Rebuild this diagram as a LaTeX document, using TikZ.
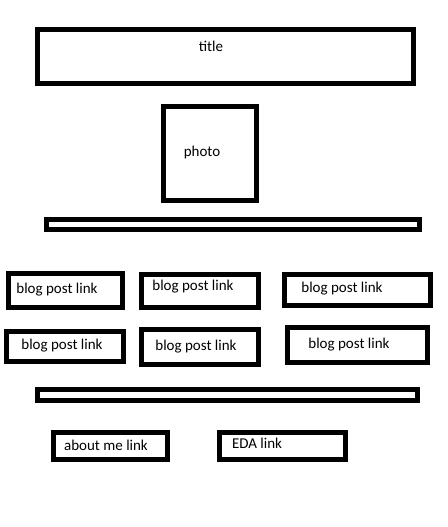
\documentclass[tikz,border=0pt]{standalone}
\usepackage{fontspec}
\setmainfont{Carlito}
\usepackage{tikz}

\begin{document}
\begin{tikzpicture}[
  x=1pt, y=-1pt,
  box/.style={rectangle,draw=black,line width=5pt,inner sep=0pt,fill=white},
  every label/.style={font=\fontsize{15}{18}\selectfont,inner sep=0pt},
  bar/.style={box,minimum height=10pt}
]
\useasboundingbox[fill=white] (0,0) rectangle (447,527);
% page header
\node[box,minimum width=376pt,minimum height=54pt,
  label={[xshift=-14.5pt,yshift=10.5pt]center:title}] (title) at (225.5,56.5) {};
\node[box,minimum width=93pt,minimum height=94pt,
  label={[xshift=-8pt,yshift=1.5pt]center:photo}] (photo) at (210,153.5) {};
\node[bar,minimum width=373pt] (bartop) at (233,224.5) {};
% blog posts
\node[box,minimum width=114pt,minimum height=34pt,
  label={[xshift=-8.5pt,yshift=0.5pt]center:blog post link}] (post1) at (65.5,290.5) {};
\node[box,minimum width=117pt,minimum height=33pt,
  label={[xshift=-7pt,yshift=4pt]center:blog post link}] (post2) at (200,291) {};
\node[box,minimum width=146pt,minimum height=31pt,
  label={[xshift=-15.5pt,yshift=1pt]center:blog post link}] (post3) at (357.5,290) {};
\node[box,minimum width=117pt,minimum height=30pt,
  label={[xshift=-3pt,yshift=0.5pt]center:blog post link}] (post4) at (65,346.5) {};
\node[box,minimum width=117pt,minimum height=35pt,
  label={[xshift=-4pt]center:blog post link}] (post5) at (200,347) {};
\node[box,minimum width=140pt,minimum height=35pt,
  label={[xshift=-8.5pt]center:blog post link}] (post6) at (357.5,345) {};
\node[bar,minimum width=380pt,minimum height=11pt] (barbottom) at (227.5,395) {};
% footer links
\node[box,minimum width=114pt,minimum height=27pt,
  label={[xshift=-4.5pt,yshift=1pt]center:about me link}] (about) at (110.5,446) {};
\node[box,minimum width=126pt,minimum height=27pt,
  label={[xshift=-25.5pt,yshift=3pt]center:EDA link}] (eda) at (282.5,446) {};
\end{tikzpicture}
\end{document}
